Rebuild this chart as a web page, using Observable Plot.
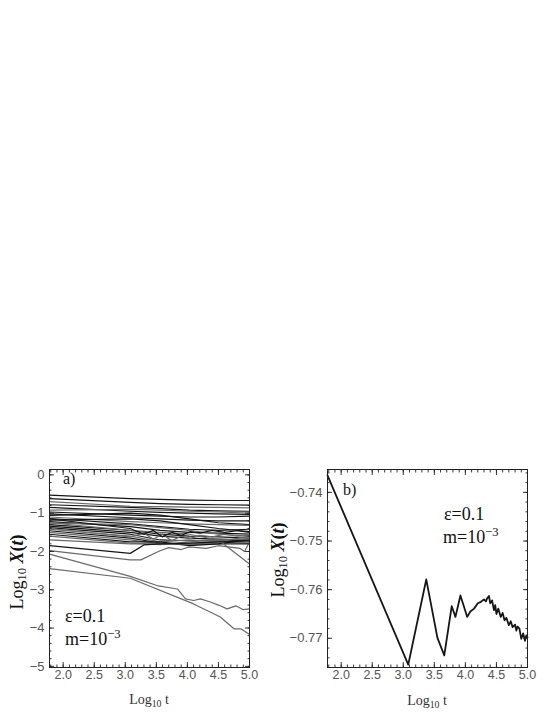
<!DOCTYPE html>
<html><head><meta charset="utf-8">
<script src="https://cdn.jsdelivr.net/npm/d3@7"></script>
<script src="https://cdn.jsdelivr.net/npm/@observablehq/plot@0.6"></script>
<style>
body{margin:0;background:#fff;}
#page{position:relative;width:553px;height:715px;overflow:hidden;background:#fff;}
.panel{position:absolute;top:455px;}
.lbl{position:absolute;font-family:"Liberation Serif","DejaVu Serif",serif;color:#111;white-space:nowrap;line-height:1;}
.lbl sub{font-size:70%;vertical-align:-0.25em;}
.lbl sup{font-size:70%;vertical-align:0.55em;}
.ytitle{transform:translate(-50%,-50%) rotate(-90deg);transform-origin:center;}
.xtitle{transform:translate(-50%,-50%);color:#333;}
</style></head><body><div id="page"></div>
<script>
// ---------- panel a data ----------
const xa = [1.78, 3.08, 3.56, 4.03, 4.5, 5.0];
const seriesA = [
  [-0.53, -0.62, -0.64, -0.66, -0.67, -0.67],
  [-0.62, -0.72, -0.75, -0.77, -0.78, -0.79],
  [-0.70, -0.82, -0.83, -0.84, -0.85, -0.86],
  [-0.78, -0.85, -0.88, -0.92, -0.94, -0.95],
  [-0.85, -0.95, -0.98, -1.00, -1.02, -1.03],
  [-0.92, -0.90, -0.92, -0.95, -0.97, -1.00],
  [-0.97, -1.05, -1.08, -1.10, -1.10, -1.08],
  [-1.02, -1.12, -1.15, -1.18, -1.20, -1.20],
  [-1.06, -1.00, -1.05, -1.15, -1.25, -1.30],
  [-1.10, -1.22, -1.25, -1.28, -1.30, -1.32],
  [-1.14, -1.28, -1.35, -1.42, -1.45, -1.42],
  [-1.18, -1.15, -1.20, -1.30, -1.40, -1.48],
  [-1.22, -1.35, -1.45, -1.50, -1.52, -1.55],
  [-1.26, -1.30, -1.38, -1.45, -1.55, -1.60],
  [-1.30, -1.45, -1.55, -1.60, -1.62, -1.65],
  [-1.34, -1.50, -1.60, -1.65, -1.68, -1.70],
  [-1.38, -1.55, -1.70, -1.72, -1.70, -1.73],
  [-1.42, -1.60, -1.75, -1.70, -1.75, -1.78],
  [-1.46, -1.65, -1.78, -1.80, -1.80, -1.80],
  [-1.50, -1.70, -1.80, -1.82, -1.78, -1.75],
  [-1.55, -1.75, -1.75, -1.85, -1.80, -1.70],
  [-1.60, -1.78, -1.82, -1.75, -1.70, -1.68],
  [-1.70, -1.80, -1.80, -1.80, -1.75, -1.60],
  [-1.25, -1.45, -1.50, -1.55, -1.70, -2.33]
];
const shadeA = ["k","k","g","k","k","g","k","k","k","g","k","k","k","g","k","k","k","g","k","g","k","g","g","g"];

// irregular lines of panel a
const kink1X = [1.78, 3.08, 3.30, 3.56, 4.03, 4.5, 5.0];
const kink1Y = [-1.85, -2.05, -1.83, -1.80, -1.78, -1.75, -1.72];
const kink2X = [1.78, 3.08, 3.25, 3.56, 3.70, 3.90, 4.03, 4.30, 4.50, 4.85, 4.92, 5.0];
const kink2Y = [-1.98, -2.22, -2.22, -1.98, -1.90, -1.95, -1.88, -1.92, -1.85, -1.92, -2.00, -1.75];
const wavyX = [1.78, 3.08, 3.30, 3.45, 3.60, 3.75, 3.90, 4.05, 4.20, 4.40, 4.60, 4.80, 5.0];
const wavy1Y = [-1.40, -1.62, -1.52, -1.68, -1.55, -1.72, -1.60, -1.66, -1.58, -1.62, -1.55, -1.60, -1.58];
const wavy2Y = [-1.15, -1.40, -1.55, -1.45, -1.62, -1.50, -1.58, -1.48, -1.52, -1.45, -1.50, -1.46, -1.50];
const lineAX = [1.78, 3.08, 3.51, 3.84, 3.97, 4.10, 4.21, 4.37, 4.50, 4.64, 4.78, 4.90, 5.0];
const lineAY = [-2.07, -2.65, -2.89, -2.98, -3.24, -3.28, -3.24, -3.32, -3.40, -3.50, -3.42, -3.52, -3.50];
const lineBX = [1.78, 3.08, 4.10, 4.53, 4.75, 4.86, 4.96, 5.0];
const lineBY = [-2.45, -2.70, -3.37, -3.71, -4.02, -4.02, -4.12, -4.17];

// ---------- panel b data ----------
const xb = [1.78, 3.08, 3.37, 3.55, 3.66, 3.78, 3.84, 3.92, 4.03, 4.08, 4.14, 4.20, 4.25, 4.30, 4.33, 4.35, 4.38, 4.40, 4.43, 4.46, 4.48, 4.50, 4.53, 4.57, 4.60, 4.63, 4.66, 4.70, 4.73, 4.76, 4.80, 4.82, 4.84, 4.87, 4.90, 4.93, 4.96, 4.98, 5.0];
const yb = [-0.7365, -0.7754, -0.7579, -0.7699, -0.7735, -0.7634, -0.7656, -0.7612, -0.7656, -0.7645, -0.7639, -0.7628, -0.7625, -0.7620, -0.7624, -0.7618, -0.7613, -0.7628, -0.7622, -0.7642, -0.7632, -0.7650, -0.7639, -0.7656, -0.7648, -0.7663, -0.7658, -0.7673, -0.7665, -0.7677, -0.7672, -0.7684, -0.7676, -0.7680, -0.7701, -0.7690, -0.7705, -0.7694, -0.7698];

// ---------- ticks ----------
const xTicks = [2.0, 2.5, 3.0, 3.5, 4.0, 4.5, 5.0];
const xMinor = d3.range(18, 51).map(d => d / 10);
const yTicksA = [0, -1, -2, -3, -4, -5];
const yMinorA = d3.range(0, 26).map(d => -d / 5);
const yTicksB = [-0.74, -0.75, -0.76, -0.77];
const yMinorB = d3.range(0, 21).map(d => -0.736 - d * 0.002);

const minus = s => s.replace("-", "\u2212");
const gray = "#6a6a6a", black = "#161616";

function frameAxes(yTicks, yMinor, yFmt) {
  const t = {stroke: "#222", strokeWidth: 0.9, label: null, text: null};
  return [
    Plot.frame({stroke: "#222", strokeWidth: 1}),
    Plot.axisX({anchor: "bottom", ticks: xTicks, tickSize: -5, ...t}),
    Plot.axisX({anchor: "bottom", ticks: xMinor, tickSize: -2.5, ...t}),
    Plot.axisX({anchor: "top", ticks: xTicks, tickSize: -5, ...t}),
    Plot.axisX({anchor: "top", ticks: xMinor, tickSize: -2.5, ...t}),
    Plot.axisX({anchor: "bottom", ticks: xTicks, tickSize: 0, tickPadding: 3, tickFormat: d => d.toFixed(1),
      fontSize: 12.5, fill: "#555", fontFamily: "Liberation Sans, sans-serif", label: null}),
    Plot.axisY({anchor: "left", ticks: yTicks, tickSize: -5, ...t}),
    Plot.axisY({anchor: "left", ticks: yMinor, tickSize: -2.5, ...t}),
    Plot.axisY({anchor: "right", ticks: yTicks, tickSize: -5, ...t}),
    Plot.axisY({anchor: "right", ticks: yMinor, tickSize: -2.5, ...t}),
    Plot.axisY({anchor: "left", ticks: yTicks, tickSize: 0, tickPadding: 5, tickFormat: yFmt,
      fontSize: 13, fill: "#555", fontFamily: "Liberation Sans, sans-serif", label: null})
  ];
}

// tidy table for panel a
const rowsA = [];
seriesA.forEach((ys, i) => ys.forEach((y, j) => rowsA.push({id: "s" + i, x: xa[j], y, c: shadeA[i]})));
[[kink1X, kink1Y, "k1", "k"], [kink2X, kink2Y, "k2", "g"], [wavyX, wavy1Y, "w1", "g"], [wavyX, wavy2Y, "w2", "k"],
 [lineAX, lineAY, "A", "g"], [lineBX, lineBY, "B", "g"]]
  .forEach(([X, Y, id, c]) => X.forEach((x, j) => rowsA.push({id, x, y: Y[j], c})));

const plotA = Plot.plot({
  width: 270, height: 260,
  marginLeft: 49, marginRight: 21, marginTop: 14, marginBottom: 48,
  x: {domain: [1.78, 5.0], label: null},
  y: {domain: [-5.03, 0.14], label: null},
  marks: [
    Plot.line(rowsA, {x: "x", y: "y", z: "id", stroke: d => d.c === "k" ? black : gray, strokeWidth: 1.2}),
    ...frameAxes(yTicksA, yMinorA, d => minus(String(d)))
  ]
});

const rowsB = xb.map((x, i) => ({x, y: yb[i]}));
const plotB = Plot.plot({
  width: 270, height: 260,
  marginLeft: 51, marginRight: 19, marginTop: 14, marginBottom: 48,
  x: {domain: [1.78, 5.0], label: null},
  y: {domain: [-0.776, -0.7353], label: null},
  marks: [
    Plot.line(rowsB, {x: "x", y: "y", stroke: black, strokeWidth: 1.8}),
    ...frameAxes(yTicksB, yMinorB, d => minus(d.toFixed(2)))
  ]
});

const page = document.getElementById("page");
const wrapA = document.createElement("div"); wrapA.className = "panel"; wrapA.style.left = "0px"; wrapA.appendChild(plotA);
const wrapB = document.createElement("div"); wrapB.className = "panel"; wrapB.style.left = "276px"; wrapB.appendChild(plotB);
page.appendChild(wrapA); page.appendChild(wrapB);

// ---------- labels ----------
const labels = [
  {html: "a)", left: 63, top: 471, size: 16},
  {html: "\u03b5=0.1", left: 65, top: 607, size: 18},
  {html: "m=10<sup>\u22123</sup>", left: 65, top: 628, size: 18},
  {html: "b)", left: 343, top: 482, size: 16},
  {html: "\u03b5=0.1", left: 444, top: 505, size: 18},
  {html: "m=10<sup>\u22123</sup>", left: 443, top: 526, size: 18}
];
labels.forEach(l => {
  const d = document.createElement("div");
  d.className = "lbl"; d.innerHTML = l.html;
  d.style.left = l.left + "px"; d.style.top = l.top + "px"; d.style.fontSize = l.size + "px";
  page.appendChild(d);
});
const titles = [
  {html: "Log<sub>10</sub> t", cls: "xtitle", left: 149, top: 701, size: 14},
  {html: "Log<sub>10</sub> t", cls: "xtitle", left: 427, top: 702, size: 14},
  {html: "Log<sub>10</sub> <b><i>X</i>(<i>t</i>)</b>", cls: "ytitle", left: 18, top: 572, size: 18},
  {html: "Log<sub>10</sub> <b><i>X</i>(<i>t</i>)</b>", cls: "ytitle", left: 279, top: 560, size: 18}
];
titles.forEach(l => {
  const d = document.createElement("div");
  d.className = "lbl " + l.cls; d.innerHTML = l.html;
  d.style.left = l.left + "px"; d.style.top = l.top + "px"; d.style.fontSize = l.size + "px";
  page.appendChild(d);
});
</script></body></html>
